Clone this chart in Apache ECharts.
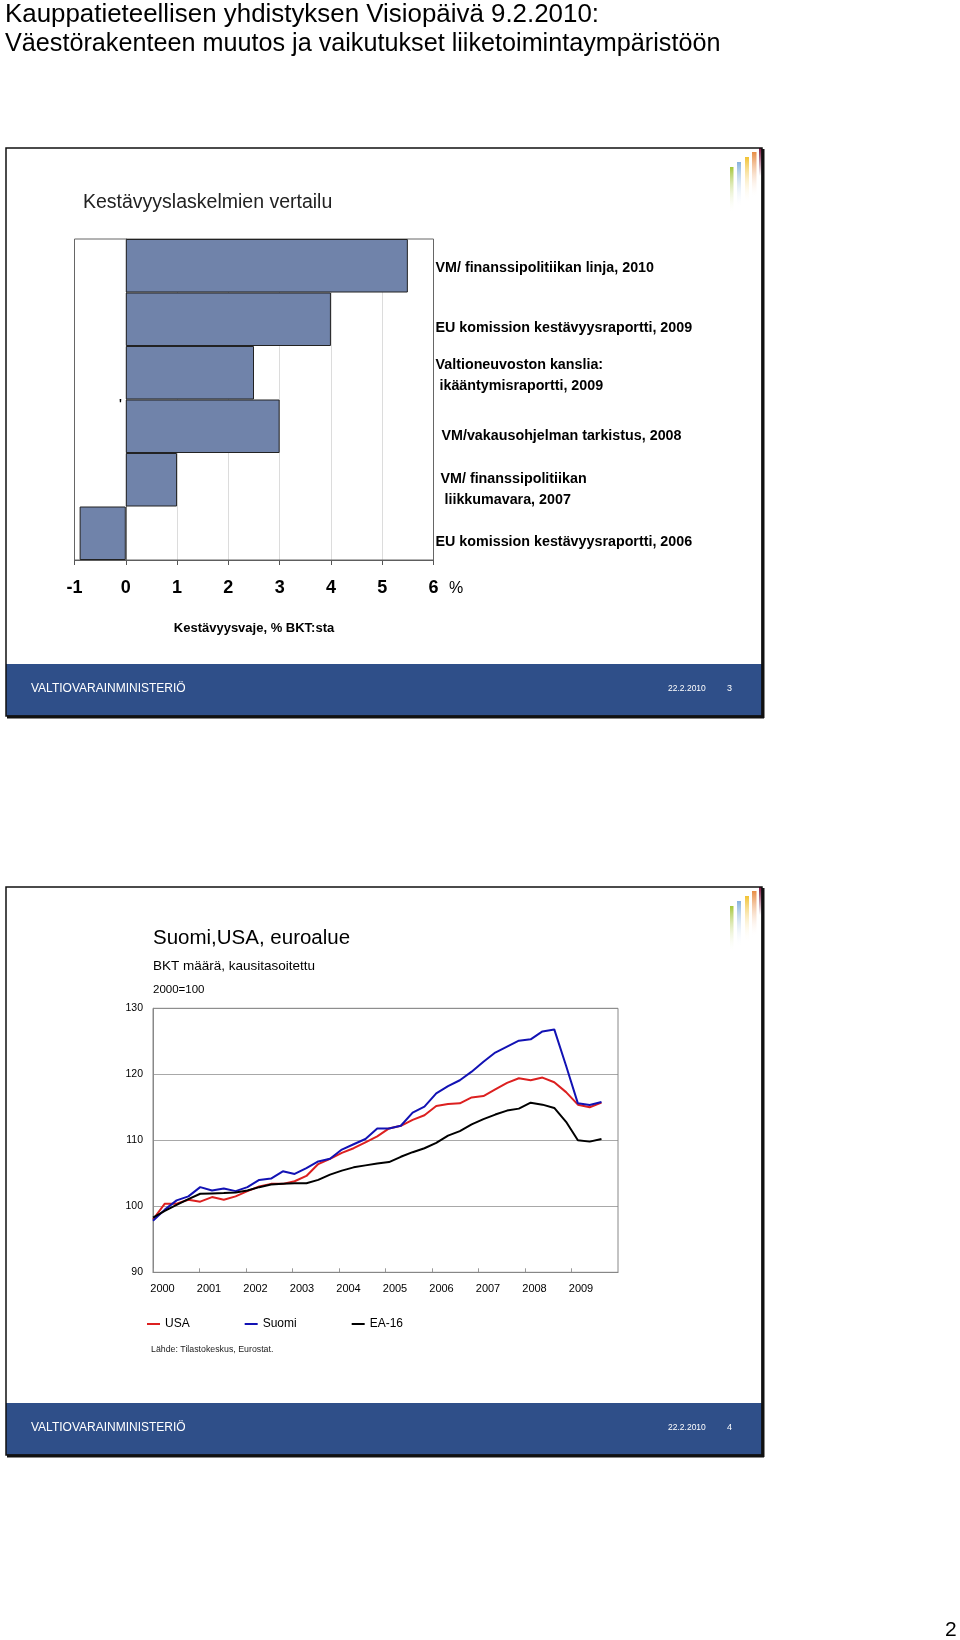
<!DOCTYPE html>
<html><head><meta charset="utf-8">
<script src="https://cdn.jsdelivr.net/npm/echarts@6/dist/echarts.min.js"></script>
<style>html,body{margin:0;padding:0;background:#fff}#c{width:960px;height:1640px}</style>
</head><body><div id="c"></div>
<script>
// ---- Chart 1: sustainability gap comparison ----
const barCategories = [
  'VM/ finanssipolitiikan linja, 2010',
  'EU komission kestävyysraportti, 2009',
  'Valtioneuvoston kanslia:\n ikääntymisraportti, 2009',
  'VM/vakausohjelman tarkistus, 2008',
  'VM/ finanssipolitiikan\n liikkumavara, 2007',
  'EU komission kestävyysraportti, 2006'
];
const barValues = [5.5, 4.0, 2.5, 3.0, 1.0, -0.9];

// ---- Chart 2: GDP volume, seasonally adjusted, 2000=100 (quarterly 2000Q1-2009Q3) ----
const years = ['2000','2001','2002','2003','2004','2005','2006','2007','2008','2009'];
const usa   = [98.0,100.4,100.4,101.0,100.7,101.4,101.0,101.5,102.3,103.0,
               103.4,103.4,103.8,104.6,106.4,107.2,108.1,108.8,109.7,110.6,
               111.8,112.2,113.1,113.8,115.2,115.5,115.6,116.5,116.7,117.7,
               118.7,119.4,119.1,119.5,118.8,117.3,115.4,115.0,115.7];
const suomi = [97.8,99.5,100.9,101.5,102.9,102.4,102.7,102.3,102.9,104.0,
               104.2,105.3,104.9,105.8,106.8,107.2,108.6,109.4,110.2,111.8,
               111.8,112.2,114.2,115.1,117.1,118.2,119.1,120.4,121.9,123.3,
               124.2,125.1,125.3,126.5,126.8,121.3,115.6,115.35,115.8];
const ea16  = [98.3,99.3,100.2,101.1,101.9,101.95,102.0,102.1,102.4,102.9,
               103.3,103.4,103.5,103.5,104.0,104.8,105.4,105.9,106.2,106.5,
               106.7,107.5,108.2,108.8,109.6,110.7,111.4,112.4,113.2,113.9,
               114.5,114.8,115.7,115.4,114.9,112.8,110.0,109.8,110.2];
const seriesNames = ['USA','Suomi','EA-16'];

// styles (kept separate from data)
const FONT = "'Liberation Sans', Arial, Helvetica, sans-serif";
const labelShift  = [2, 9, 3, 10, 10, 9];
const labelIndent = [0, 0, 0, 6, 5, 0];
const FOOT = '#2f4f89';

const richStyles = {};
labelShift.forEach((s, i) => {
  richStyles['t' + i] = {fontSize:14.3, fontWeight:'bold', color:'#000', fontFamily:FONT,
                         lineHeight:21, padding:[2 * s, 0, 0, labelIndent[i]]};
});

function slideFrame(y0, page) {
  const els = [];
  els.push({type:'rect', shape:{x:6,y:y0+516,width:756,height:52}, style:{fill:FOOT}, z:1});
  els.push({type:'rect', shape:{x:6,y:y0,width:756,height:568}, style:{fill:'none',stroke:'#111',lineWidth:1.5}, z:5});
  els.push({type:'line', shape:{x1:763,y1:y0+1,x2:763,y2:y0+570}, style:{stroke:'#111',lineWidth:3}, z:5});
  els.push({type:'line', shape:{x1:7,y1:y0+569,x2:764,y2:y0+569}, style:{stroke:'#111',lineWidth:3}, z:5});
  els.push({type:'text', x:31, y:y0+541, style:{text:'VALTIOVARAINMINISTERIÖ', fill:'#fff', fontSize:12, fontFamily:FONT, verticalAlign:'middle'}, z:6});
  els.push({type:'text', x:668, y:y0+541, style:{text:'22.2.2010', fill:'#fff', fontSize:8.5, fontFamily:FONT, verticalAlign:'middle'}, z:6});
  els.push({type:'text', x:727, y:y0+541, style:{text:String(page), fill:'#fff', fontSize:9, fontFamily:FONT, verticalAlign:'middle'}, z:6});
  const bars = [[730,3.5,19,'#a6c63a'],[737,4,14,'#86b2de'],[745,4,9,'#f2c233'],[752,4.5,4,'#e88d45']];
  bars.forEach(b => {
    els.push({type:'rect', shape:{x:b[0],y:y0+b[2],width:b[1],height:46},
      style:{fill:new echarts.graphic.LinearGradient(0,0,0,1,[{offset:0,color:b[3]},{offset:1,color:'rgba(255,255,255,0)'}])}, z:4});
  });
  els.push({type:'rect', shape:{x:759,y:y0,width:3,height:28},
      style:{fill:new echarts.graphic.LinearGradient(0,0,0,1,[{offset:0,color:'#7a1540'},{offset:1,color:'rgba(122,21,64,0)'}])}, z:4});
  return els;
}

const graphics = [
  {type:'text', x:5, y:15, style:{text:'Kauppatieteellisen yhdistyksen Visiopäivä 9.2.2010:', fontSize:25.9, fontFamily:FONT, fill:'#000', verticalAlign:'middle'}},
  {type:'text', x:5, y:44, style:{text:'Väestörakenteen muutos ja vaikutukset liiketoimintaympäristöön', fontSize:25.2, fontFamily:FONT, fill:'#000', verticalAlign:'middle'}},
  ...slideFrame(148, 3),
  {type:'text', x:83, y:203, style:{text:'Kestävyyslaskelmien vertailu', fontSize:19.5, fontFamily:FONT, fill:'#222', verticalAlign:'middle'}},
  {type:'text', x:449, y:589, style:{text:'%', fontSize:16, fontFamily:FONT, fill:'#000', verticalAlign:'middle'}},
  {type:'text', x:119, y:405, style:{text:"'", fontSize:12, fontWeight:'bold', fontFamily:FONT, fill:'#000', verticalAlign:'middle'}},
  ...slideFrame(887, 4),
  {type:'text', x:153, y:938, style:{text:'Suomi,USA, euroalue', fontSize:20.5, fontFamily:FONT, fill:'#000', verticalAlign:'middle'}},
  {type:'text', x:153, y:966, style:{text:'BKT määrä, kausitasoitettu', fontSize:13.5, fontFamily:FONT, fill:'#000', verticalAlign:'middle'}},
  {type:'text', x:153, y:990, style:{text:'2000=100', fontSize:11.5, fontFamily:FONT, fill:'#000', verticalAlign:'middle'}},
  {type:'text', x:151, y:1350, style:{text:'Lähde: Tilastokeskus, Eurostat.', fontSize:8.8, fontFamily:FONT, fill:'#222', verticalAlign:'middle'}},
  {type:'text', x:945, y:1630, style:{text:'2', fontSize:21, fontFamily:FONT, fill:'#000', verticalAlign:'middle'}}
];

const chart = echarts.init(document.getElementById('c'), null, {renderer:'canvas'});
chart.setOption({
  animation: false,
  backgroundColor: '#fff',
  textStyle: {fontFamily: FONT},
  graphic: graphics,
  grid: [
    {left:74.5, top:239, width:359, height:321, show:true, borderColor:'#666', borderWidth:1, z:2},
    {left:153, top:1008.3, width:465, height:264, show:true, borderColor:'#888', borderWidth:1, z:2}
  ],
  legend: {
    data: seriesNames, left:147, top:1318, itemWidth:13, itemHeight:2, itemGap:55, icon:'rect', padding:0,
    textStyle:{fontSize:12, color:'#000', fontFamily:FONT}
  },
  xAxis: [
    {type:'value', gridIndex:0, min:-1, max:6, interval:1,
     axisLine:{show:true, lineStyle:{color:'#555'}},
     axisTick:{show:true, length:5, lineStyle:{color:'#555'}},
     axisLabel:{fontSize:18, fontWeight:'bold', color:'#000', margin:19, fontFamily:FONT},
     splitLine:{show:true, lineStyle:{color:'#dcdcdc'}},
     name:'Kestävyysvaje, % BKT:sta', nameLocation:'middle', nameGap:62,
     nameTextStyle:{fontSize:13, fontWeight:'bold', color:'#000', fontFamily:FONT}},
    {type:'value', gridIndex:1, position:'bottom', min:0, max:40, interval:4,
     axisLine:{show:true, lineStyle:{color:'#888'}},
     axisTick:{show:true, inside:true, length:4, lineStyle:{color:'#999'}},
     axisLabel:{fontSize:11, color:'#000', margin:11, padding:[0,0,0,19], showMaxLabel:false,
       formatter: v => (v % 4 === 0 && v / 4 < years.length) ? years[v / 4] : ''},
     splitLine:{show:false}},
    {type:'value', gridIndex:1, min:0, max:39.4, show:false}
  ],
  yAxis: [
    {type:'category', gridIndex:0, position:'right', inverse:true, data: barCategories,
     axisLine:{show:true, lineStyle:{color:'#777'}}, axisTick:{show:false},
     axisLabel:{fontSize:14.3, fontWeight:'bold', color:'#000', margin:2, align:'left', lineHeight:21, fontFamily:FONT,
       formatter: (value, index) => value.split('\n').map(ln => '{t' + index + '|' + ln + '}').join('\n'),
       rich: richStyles},
     splitLine:{show:false}},
    {type:'value', gridIndex:1, min:90, max:130, interval:10,
     axisLine:{show:true, lineStyle:{color:'#888'}}, axisTick:{show:false},
     axisLabel:{fontSize:10.5, color:'#000', margin:10},
     splitLine:{show:true, lineStyle:{color:'#a8a8a8'}}}
  ],
  series: [
    {type:'bar', xAxisIndex:0, yAxisIndex:0, data:barValues, barCategoryGap:'0%',
     itemStyle:{color:'#7083aa', borderColor:'#222', borderWidth:1}, z:3},
    {name:seriesNames[0], type:'line', xAxisIndex:2, yAxisIndex:1, data:usa.map((v,i)=>[i,v]),
     showSymbol:false, symbol:'none', lineStyle:{color:'#dc2020', width:2}, itemStyle:{color:'#dc2020'}},
    {name:seriesNames[1], type:'line', xAxisIndex:2, yAxisIndex:1, data:suomi.map((v,i)=>[i,v]),
     showSymbol:false, symbol:'none', lineStyle:{color:'#1212b4', width:2}, itemStyle:{color:'#1212b4'}},
    {name:seriesNames[2], type:'line', xAxisIndex:2, yAxisIndex:1, data:ea16.map((v,i)=>[i,v]),
     showSymbol:false, symbol:'none', lineStyle:{color:'#000', width:2}, itemStyle:{color:'#000'}}
  ]
});
</script></body></html>
